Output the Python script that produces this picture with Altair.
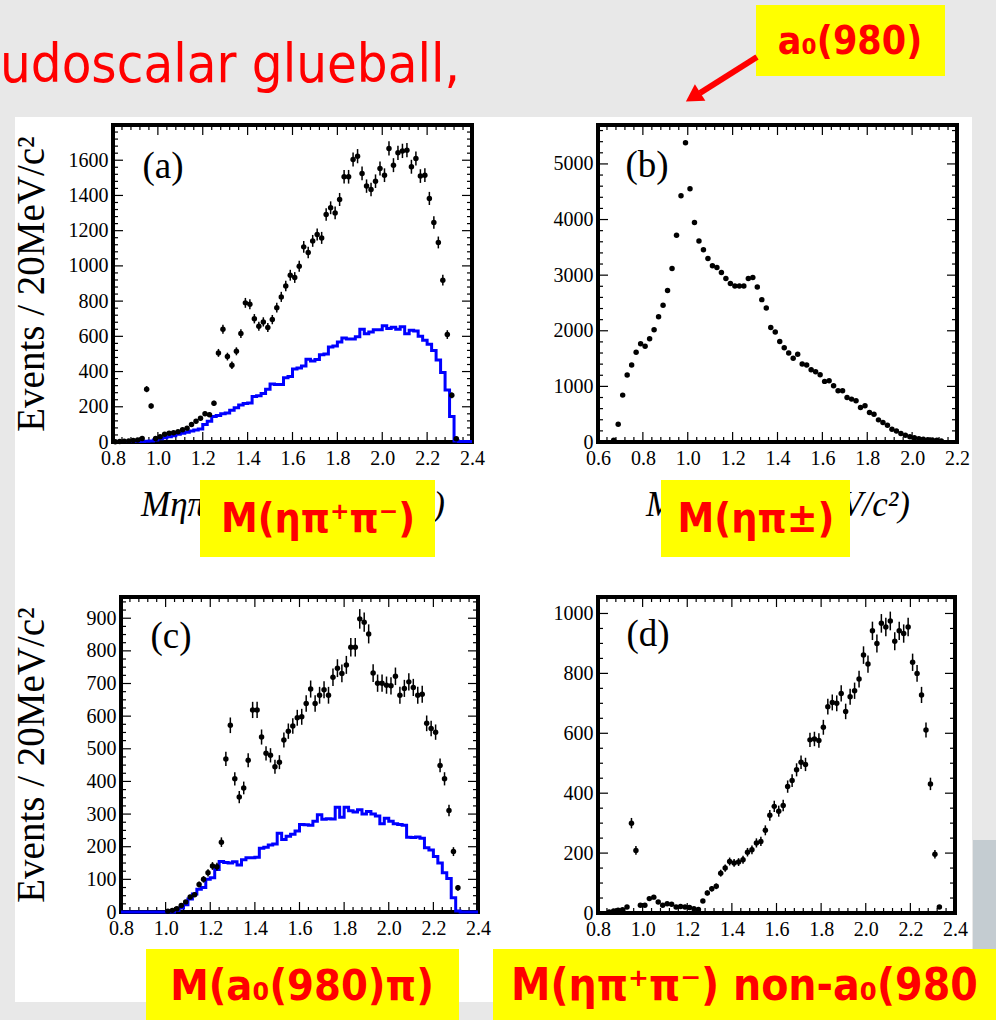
import altair as alt
import pandas as pd

BIN = 0.02
MC_EDGE0 = 0.80

# ---------------- panel (a): M(eta pi+ pi-) ----------------
a_start = 0.81
a_counts = [2, 3, 5, 6, 8, 12, 20, 300, 205, 20,
            30, 44, 50, 52, 58, 70, 78, 100, 118, 135,
            160, 155, 220, 506, 640, 485, 436, 515, 616, 790,
            782, 700, 657, 682, 650, 695, 763, 824, 886, 947,
            934, 998, 1108, 1076, 1142, 1178, 1159, 1292, 1330, 1301,
            1377, 1506, 1506, 1604, 1623, 1525, 1453, 1434, 1481, 1553,
            1515, 1667, 1572, 1642, 1653, 1657, 1563, 1610, 1510, 1515,
            1383, 1246, 1133, 919, 610, 265, 19]
a_mc = [3, 3, 3, 3, 3, 3, 3, 4,
        6, 12, 18, 24, 30, 36, 44, 50, 56, 62, 68, 74,
        100, 118, 145, 150, 160, 165, 180, 195, 210, 218,
        222, 258, 262, 275, 300, 330, 326, 326, 365, 372,
        415, 420, 432, 470, 460, 468, 495, 500, 540, 545,
        568, 590, 585, 585, 598, 640, 615, 625, 638, 638,
        660, 645, 652, 640, 655, 615, 635, 630, 600, 578,
        555, 520, 465, 395, 295, 145, 5, 3, 3, 3]

# ---------------- panel (b): M(eta pi+-) ----------------
b_start = 0.67
b_counts = [30, 319, 843, 1205, 1386, 1614, 1765, 1723, 1855, 2018,
            2253, 2458, 2723, 3120, 3717, 4428, 5380, 4554, 3946, 3614,
            3458, 3301, 3169, 3139, 3048, 2940, 2849, 2807, 2807, 2807,
            2940, 2958, 2789, 2560, 2410, 2060, 1976, 1807, 1693, 1602,
            1506, 1578, 1404, 1386, 1301, 1265, 1211, 1090, 1102, 1012,
            922, 922, 801, 771, 741, 620, 651, 530, 500, 398,
            349, 301, 229, 199, 151, 120, 96, 78, 60, 48,
            42, 36, 30, 18]

# ---------------- panel (c): M(a0(980) pi) ----------------
c_start = 1.01
c_counts = [2, 5, 10, 20, 31, 46, 53, 84, 100, 120,
            141, 139, 214, 469, 572, 408, 352, 380, 465, 619,
            619, 536, 486, 480, 445, 459, 527, 554, 570, 595,
            598, 639, 683, 639, 664, 681, 664, 719, 747, 731,
            757, 811, 811, 898, 888, 852, 732, 701, 701, 695,
            693, 722, 664, 685, 705, 688, 664, 667, 578, 562,
            551, 449, 408, 311, 185, 74]
c_mc = [0] * 12 + [5, 12, 22, 40, 55, 70, 75, 100, 105, 130,
                   155, 152, 150, 154, 144, 160, 166, 166, 168, 195,
                   198, 205, 208, 241, 222, 232, 238, 248, 268, 267,
                   266, 278, 298, 284, 286, 285, 321, 290, 321, 310,
                   306, 313, 300, 308, 300, 294, 270, 287, 278, 270,
                   268, 266, 229, 228, 230, 226, 197, 190, 170, 150,
                   120, 103, 44, 3] + [0] * 4

# ---------------- panel (d): M(eta pi+ pi-) non-a0(980) ----------------
d_start = 0.85
d_counts = [3, 7, 9, 11, 20,
            300, 209, 26, 26, 48, 53, 37, 26, 31, 29,
            20, 22, 20, 18, 14, 12, 40, 67, 81, 89,
            133, 150, 172, 167, 170, 178, 203, 211, 234, 239,
            276, 326, 356, 340, 359, 422, 442, 478, 503, 496,
            578, 581, 576, 620, 689, 703, 700, 733, 673, 722,
            742, 781, 861, 831, 942, 900, 967, 955, 975, 907,
            942, 933, 955, 837, 800, 728, 611, 431, 196, 20]

# axis tick labels
x_labels_a = [0.8, 1.0, 1.2, 1.4, 1.6, 1.8, 2.0, 2.2, 2.4]
x_labels_b = [0.6, 0.8, 1.0, 1.2, 1.4, 1.6, 1.8, 2.0, 2.2]
y_labels_a = [0, 200, 400, 600, 800, 1000, 1200, 1400, 1600]
y_labels_b = [0, 1000, 2000, 3000, 4000, 5000]
y_labels_c = [0, 100, 200, 300, 400, 500, 600, 700, 800, 900]
y_labels_d = [0, 200, 400, 600, 800, 1000]

YTITLE = "Events / 20MeV/c²"
XTITLE_A = "Mηπ⁺π⁻\u2003\u2003\u2009(GeV/c²)"
XTITLE_B = "Mηπ±\u2003\u2002\u2009(GeV/c²)"

SERIF = "Liberation Serif"
COMIC = "Comic Sans MS, DejaVu Sans Condensed, DejaVu Sans, sans-serif"
RED = "#ff0000"
YELLOW = "#ffff00"

DUMMY = pd.DataFrame({"k": [0]})


def pts_df(start, counts):
    return pd.DataFrame({"x": [round(start + BIN * i, 3) for i in range(len(counts))],
                         "y": counts})


def mc_df(vals):
    return pd.DataFrame({"x": [round(MC_EDGE0 + BIN * i, 3) for i in range(len(vals) + 1)],
                         "y": list(vals) + [vals[-1]]})


def steps(lo, hi, step):
    n = int(round((hi - lo) / step))
    return [round(lo + step * i, 4) for i in range(n + 1)]


def rect(cx1, cy1, cx2, cy2, color, origin):
    ox, oy = origin
    return alt.Chart(DUMMY).mark_rect(color=color, strokeWidth=0).encode(
        x=alt.value(cx1 - ox), x2=alt.value(cx2 - ox),
        y=alt.value(cy1 - oy), y2=alt.value(cy2 - oy))


def label(txt, cx, cy, origin, **kw):
    ox, oy = origin
    return alt.Chart(DUMMY).mark_text(text=txt, **kw).encode(
        x=alt.value(cx - ox), y=alt.value(cy - oy))


def panel(W, H, xdom, ydom, xmaj, ymaj, ysub, pts, mc=None, err=True, tag="",
          tag_xy=(50, 40), xtitle=None, ytitle=None, x0=0, origin=(0, 0),
          before=(), after=()):
    if x0:
        xs = alt.Scale(domain=xdom, nice=False, zero=False, range=[x0, W])
    else:
        xs = alt.Scale(domain=xdom, nice=False, zero=False)
    ys = alt.Scale(domain=ydom, nice=False, zero=False)

    xkw = dict(values=xmaj, format=".1f", ticks=False, domain=False, grid=False,
               labelFont=SERIF, labelFontSize=20, labelColor="black", labelPadding=6,
               labelFlush=False, labelOverlap=False, zindex=1)
    if xtitle:
        xkw.update(title=xtitle, titleFont=SERIF, titleFontSize=35, titleFontStyle="italic",
                   titleFontWeight="normal", titleColor="black", titleX=(x0 + W) / 2,
                   titleY=73, titleAlign="center", titleBaseline="alphabetic")
    else:
        xkw["title"] = None
    ykw = dict(values=ymaj, format="d", ticks=False, domain=False, grid=False,
               labelFont=SERIF, labelFontSize=20, labelColor="black", labelPadding=5,
               labelFlush=False, labelOverlap=False, zindex=1)
    if x0:
        ykw["offset"] = -x0
    if ytitle:
        ykw.update(title=ytitle, titleFont=SERIF, titleFontSize=39, titleFontWeight="normal",
                   titleColor="black", titleX=43 - (origin[0] + x0), titleY=H / 2,
                   titleAngle=270, titleAlign="center", titleBaseline="alphabetic")
    else:
        ykw["title"] = None
    xaxis = alt.Axis(**xkw)
    yaxis = alt.Axis(**ykw)

    def X(f):
        return alt.X(f, scale=xs, axis=xaxis)

    def Y(f):
        return alt.Y(f, scale=ys, axis=yaxis)

    xall = steps(xdom[0], xdom[1], 0.04)
    xmajr = [round(v, 4) for v in xmaj]
    xmin = [v for v in xall if v not in xmajr]
    yall = steps(0, ydom[1] - (ydom[1] % ysub), ysub)
    ymin = [v for v in yall if v not in ymaj]

    def xr(vals, y1, y2):
        return alt.Chart(pd.DataFrame({"v": vals})).mark_rule(color="black", strokeWidth=1.2).encode(
            x=X("v:Q"), y=alt.value(y1), y2=alt.value(y2))

    def yr(vals, x1, x2):
        return alt.Chart(pd.DataFrame({"v": vals})).mark_rule(color="black", strokeWidth=1.2).encode(
            y=Y("v:Q"), x=alt.value(x1), x2=alt.value(x2))

    layers = list(before)
    layers.append(alt.Chart(DUMMY).mark_rect(fillOpacity=0, stroke="black", strokeWidth=4).encode(
        x=alt.value(x0), x2=alt.value(W), y=alt.value(0), y2=alt.value(H)))
    layers += [xr(xmajr, H, H - 10), xr(xmin, H, H - 5), xr(xmajr, 0, 10), xr(xmin, 0, 5),
               yr(ymaj, x0, x0 + 10), yr(ymin, x0, x0 + 5), yr(ymaj, W, W - 10), yr(ymin, W, W - 5)]
    if mc is not None:
        layers.append(alt.Chart(mc).mark_line(interpolate="step-after", color="#0000ff",
                                              strokeWidth=3).encode(x=X("x:Q"), y=Y("y:Q")))
    if err:
        layers.append(alt.Chart(pts).transform_calculate(
            lo="datum.y - sqrt(datum.y)", hi="datum.y + sqrt(datum.y)"
        ).mark_rule(color="black", strokeWidth=1.5).encode(x=X("x:Q"), y=Y("lo:Q"), y2="hi:Q"))
    layers.append(alt.Chart(pts).mark_circle(size=30, color="black", opacity=1).encode(
        x=X("x:Q"), y=Y("y:Q")))
    layers.append(alt.Chart(DUMMY).mark_text(text=tag, font=SERIF, fontSize=37, color="black",
                                             align="center", baseline="middle").encode(
        x=alt.value(tag_xy[0]), y=alt.value(tag_xy[1])))
    layers += list(after)
    return alt.layer(*layers).properties(width=W, height=H)


OA = (113, 125)
OB = (592, 125)
OC = (113, 597)
OD = (598, 597)

bg_layers = [
    rect(0, 0, 996, 1020, "#e8e8e8", OA),
    rect(15, 117, 972, 1002, "#ffffff", OA),
    rect(973, 840, 996, 1000, "#c4ccd1", OA),
]

deco = [
    label("udoscalar glueball,", 0, 82, OD, font=COMIC, fontSize=54, color=RED,
          align="left", baseline="alphabetic"),
    rect(756, 5, 945, 76, YELLOW, OD),
    label("a₀(980)", 850, 42, OD, font=COMIC, fontSize=39, fontWeight="bold", color=RED,
          align="center", baseline="middle"),
    alt.Chart(DUMMY).mark_rule(color=RED, strokeWidth=6).encode(
        x=alt.value(757 - OD[0]), y=alt.value(57 - OD[1]),
        x2=alt.value(700 - OD[0]), y2=alt.value(93 - OD[1])),
    alt.Chart(DUMMY).mark_point(shape="triangle-up", filled=True, color=RED, size=380,
                                angle=237.5, opacity=1).encode(
        x=alt.value(693 - OD[0]), y=alt.value(97 - OD[1])),
    rect(200, 480, 435, 557, YELLOW, OD),
    label("M(ηπ⁺π⁻)", 318, 520, OD, font=COMIC, fontSize=41, fontWeight="bold", color=RED,
          align="center", baseline="middle"),
    rect(661, 480, 850, 557, YELLOW, OD),
    label("M(ηπ±)", 756, 520, OD, font=COMIC, fontSize=41, fontWeight="bold", color=RED,
          align="center", baseline="middle"),
    rect(146, 949, 459, 1020, YELLOW, OD),
    label("M(a₀(980)π)", 302, 987, OD, font=COMIC, fontSize=43, fontWeight="bold", color=RED,
          align="center", baseline="middle"),
    rect(493, 949, 996, 1020, YELLOW, OD),
    label("M(ηπ⁺π⁻) non-a₀(980)", 511, 987, OD, font=COMIC, fontSize=44, fontWeight="bold",
          color=RED, align="left", baseline="middle", limit=484, ellipsis="\u200b"),
]

pa = panel(359, 317, [0.8, 2.4], [0, 1800], x_labels_a, y_labels_a, 40,
           pts_df(a_start, a_counts), mc=mc_df(a_mc), tag="(a)", tag_xy=(50, 42),
           xtitle=XTITLE_A, ytitle=YTITLE, origin=OA, before=bg_layers)
pb = panel(359, 317, [0.6, 2.2], [0, 5700], x_labels_b, y_labels_b, 200,
           pts_df(b_start, b_counts), err=False, tag="(b)", tag_xy=(49, 41),
           xtitle=XTITLE_B, origin=OB)
pc = panel(365, 315, [0.8, 2.4], [0, 965], x_labels_a, y_labels_c, 25,
           pts_df(c_start, c_counts), mc=mc_df(c_mc), tag="(c)", tag_xy=(58, 40),
           ytitle=YTITLE, x0=8, origin=OC)
pd_ = panel(357, 316, [0.8, 2.4], [0, 1055], x_labels_a, y_labels_d, 50,
            pts_df(d_start, d_counts), tag="(d)", tag_xy=(50, 38), origin=OD, after=deco)

chart = alt.concat(pa, pb, pc, pd_, columns=2, spacing={"row": 155, "column": 120},
                   bounds="flush", align="none").properties(
    padding=0, background="#e8e8e8").configure_view(strokeWidth=0)

chart.save("out.html", embed_options={"renderer": "svg", "actions": False})
